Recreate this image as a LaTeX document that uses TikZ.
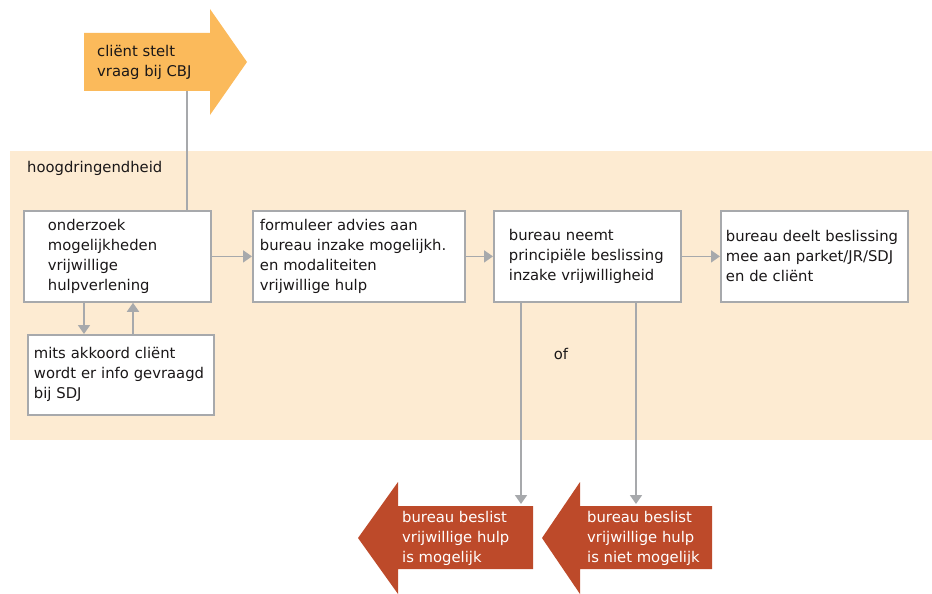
\documentclass[tikz,border=0pt]{standalone}
\usepackage{fontspec}
\setmainfont{DejaVu Sans}
\usetikzlibrary{arrows.meta}

\definecolor{band}{HTML}{FDEBD2}
\definecolor{oranje}{HTML}{FBBA5B}
\definecolor{rood}{HTML}{BD4A2A}
\definecolor{lijn}{HTML}{A7A9AC}
\definecolor{tekst}{HTML}{1A1718}

\tikzset{
	kader/.style={draw=lijn, line width=1.8pt, fill=white, align=left, anchor=north west, minimum height=91pt},
	pijl/.style={draw=lijn, line width=1.8pt, -{Triangle[length=9pt,width=12pt]}},
	verbinding/.style={draw=lijn, line width=1.8pt}
}

\begin{document}
\begin{tikzpicture}[x=1pt, y=-1pt, font=\fontsize{14.8}{20}\selectfont, text=tekst]
	\useasboundingbox (0,0) rectangle (932,594);
	\fill [band] (10,151) rectangle (932,440);
	\node [anchor=west, inner sep=0pt] (urgentie) at (27,168) {hoogdringendheid};

	\fill [oranje] (84,33) -- (210,33) -- (210,9) -- (247,62) -- (210,115) -- (210,91) -- (84,91) -- cycle;
	\node [anchor=west, inner sep=0pt, align=left] (vraag) at (97,62) {cliënt stelt\\vraag bij CBJ};
	\coordinate (vraagvoet) at (187,91);

	\node [kader, inner xsep=24pt, text width=139pt] (onderzoek) at (23,210) {onderzoek\\mogelijkheden\\vrijwillige\\hulpverlening};
	\node [kader, inner xsep=7pt, text width=198pt] (advies) at (252,210) {formuleer advies aan\\bureau inzake mogelijkh.\\en modaliteiten\\vrijwillige hulp};
	\node [kader, inner xsep=15pt, text width=157pt] (beslissing) at (493,210) {bureau neemt\\principiële beslissing\\inzake vrijwilligheid};
	\node [kader, inner xsep=5pt, text width=177pt] (meedelen) at (720,210) {bureau deelt beslissing\\mee aan parket/JR/SDJ\\en de cliënt};
	\node [kader, inner xsep=6pt, text width=174pt, minimum height=80pt] (info) at (27,334) {mits akkoord cliënt\\wordt er info gevraagd\\bij SDJ};
	\node (of) at (561,354) {of};

	\fill [rood] (533,506) -- (398,506) -- (398,482) -- (358,538) -- (398,594) -- (398,569) -- (533,569) -- cycle;
	\fill [rood] (712,506) -- (580,506) -- (580,482) -- (542,538) -- (580,594) -- (580,569) -- (712,569) -- cycle;
	\node [anchor=west, inner sep=0pt, align=left, text=white] (mogelijk) at (402,538) {bureau beslist\\vrijwillige hulp\\is mogelijk};
	\node [anchor=west, inner sep=0pt, align=left, text=white] (nietmogelijk) at (587,538) {bureau beslist\\vrijwillige hulp\\is niet mogelijk};
	\coordinate (mogelijktop) at (521,504);
	\coordinate (nietmogelijktop) at (636,504);

	\draw [verbinding] (vraagvoet) -- (vraagvoet |- onderzoek.north);
	\draw [pijl] (onderzoek.east) -- (advies.west);
	\draw [pijl] (advies.east) -- (beslissing.west);
	\draw [pijl] (beslissing.east) -- (meedelen.west);
	\draw [pijl] ([xshift=61pt]onderzoek.south west) -- ([xshift=57pt]info.north west);
	\draw [pijl] ([xshift=106pt]info.north west) -- ([xshift=110pt]onderzoek.south west);
	\draw [pijl] ([xshift=28pt]beslissing.south west) -- (mogelijktop);
	\draw [pijl] ([xshift=143pt]beslissing.south west) -- (nietmogelijktop);
\end{tikzpicture}
\end{document}
